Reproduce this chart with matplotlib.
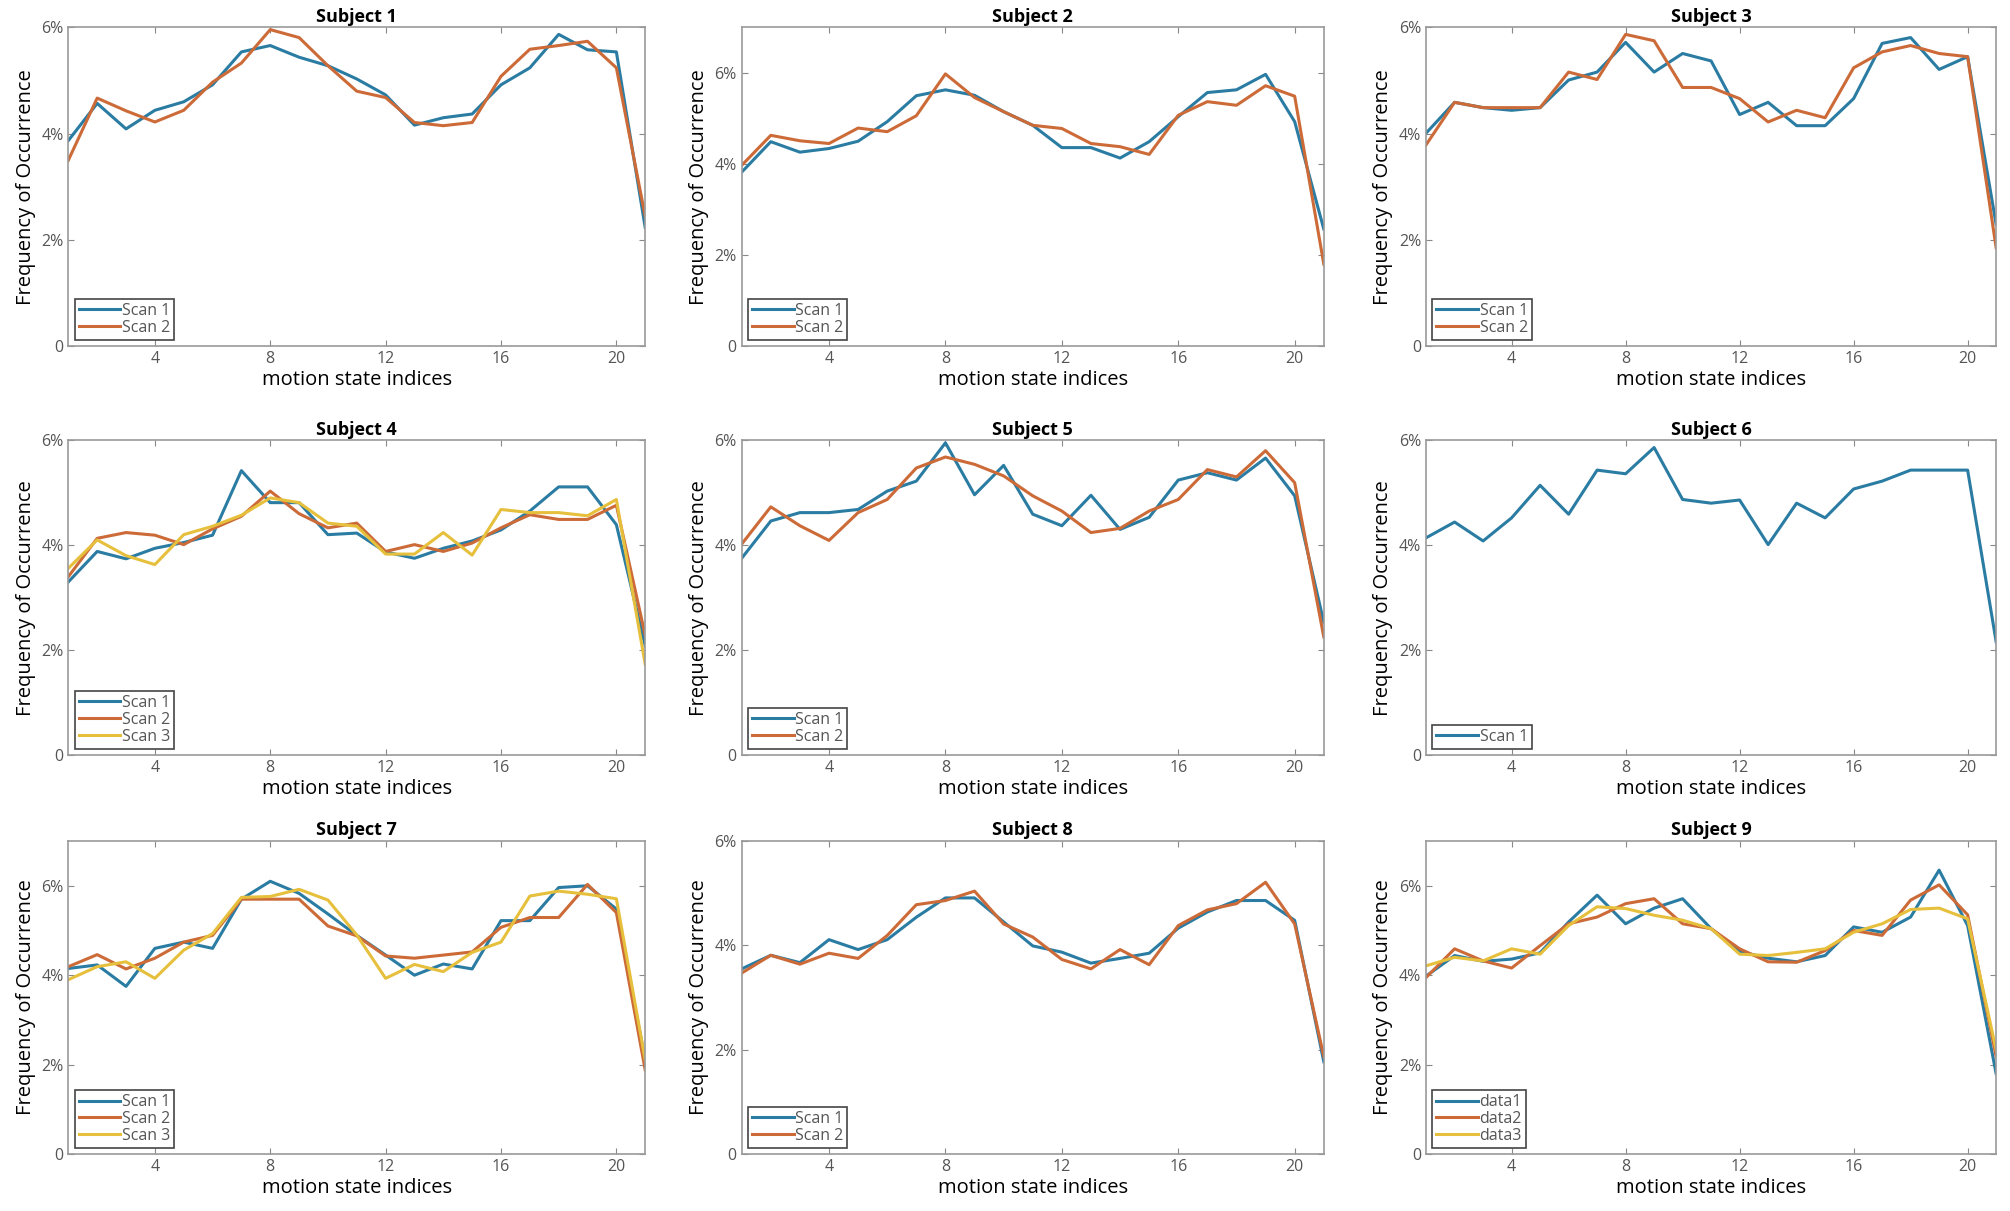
import numpy as np
import matplotlib
matplotlib.use("Agg")
import matplotlib.pyplot as plt
from matplotlib.ticker import FuncFormatter

plt.rcParams['font.family'] = ['Open Sans', 'DejaVu Sans']

states = np.arange(1, 22)

s1_scan1 = [3.87, 4.57, 4.09, 4.44, 4.6, 4.92, 5.54, 5.66, 5.44, 5.28, 5.03, 4.73, 4.16, 4.3, 4.37, 4.92, 5.24, 5.87, 5.58, 5.54, 2.23]
s1_scan2 = [3.5, 4.67, 4.43, 4.22, 4.44, 4.97, 5.33, 5.96, 5.81, 5.28, 4.8, 4.68, 4.21, 4.15, 4.21, 5.08, 5.59, 5.66, 5.74, 5.24, 2.44]

s2_scan1 = [3.82, 4.49, 4.26, 4.34, 4.5, 4.93, 5.5, 5.63, 5.51, 5.15, 4.85, 4.36, 4.36, 4.13, 4.49, 5.04, 5.57, 5.63, 5.97, 4.93, 2.57]
s2_scan2 = [3.97, 4.63, 4.51, 4.45, 4.79, 4.71, 5.06, 5.98, 5.46, 5.15, 4.85, 4.78, 4.45, 4.38, 4.21, 5.07, 5.37, 5.29, 5.72, 5.49, 1.8]

s3_scan1 = [4.01, 4.59, 4.49, 4.44, 4.49, 5.01, 5.16, 5.72, 5.16, 5.51, 5.37, 4.36, 4.59, 4.15, 4.15, 4.66, 5.7, 5.81, 5.21, 5.45, 2.29]
s3_scan2 = [3.79, 4.59, 4.49, 4.49, 4.49, 5.16, 5.02, 5.87, 5.75, 4.87, 4.87, 4.66, 4.22, 4.44, 4.3, 5.24, 5.54, 5.66, 5.51, 5.45, 1.85]

s4_scan1 = [3.3, 3.88, 3.74, 3.94, 4.05, 4.19, 5.42, 4.81, 4.81, 4.2, 4.23, 3.87, 3.75, 3.94, 4.08, 4.29, 4.65, 5.11, 5.11, 4.39, 2.08]
s4_scan2 = [3.4, 4.13, 4.24, 4.19, 4.01, 4.31, 4.55, 5.03, 4.6, 4.33, 4.42, 3.88, 4.01, 3.88, 4.04, 4.33, 4.58, 4.49, 4.49, 4.76, 2.28]
s4_scan3 = [3.56, 4.1, 3.8, 3.63, 4.2, 4.36, 4.57, 4.9, 4.81, 4.42, 4.36, 3.83, 3.83, 4.24, 3.81, 4.68, 4.62, 4.62, 4.56, 4.87, 1.73]

s5_scan1 = [3.75, 4.46, 4.62, 4.62, 4.68, 5.03, 5.22, 5.95, 4.96, 5.52, 4.59, 4.37, 4.95, 4.3, 4.53, 5.24, 5.38, 5.24, 5.66, 4.94, 2.53]
s5_scan2 = [4.02, 4.73, 4.37, 4.09, 4.62, 4.87, 5.47, 5.68, 5.54, 5.32, 4.94, 4.65, 4.24, 4.32, 4.65, 4.87, 5.44, 5.3, 5.8, 5.19, 2.25]

s6_scan1 = [4.14, 4.44, 4.08, 4.52, 5.14, 4.59, 5.43, 5.36, 5.86, 4.87, 4.8, 4.86, 4.01, 4.8, 4.52, 5.07, 5.22, 5.43, 5.43, 5.43, 2.16]

s7_scan1 = [4.15, 4.23, 3.75, 4.6, 4.74, 4.6, 5.7, 6.1, 5.83, 5.37, 4.89, 4.45, 4.0, 4.25, 4.14, 5.22, 5.22, 5.96, 6.0, 5.48, 2.1]
s7_scan2 = [4.19, 4.46, 4.14, 4.38, 4.74, 4.89, 5.7, 5.7, 5.7, 5.1, 4.88, 4.43, 4.38, 4.45, 4.52, 5.07, 5.29, 5.29, 6.03, 5.4, 1.88]
s7_scan3 = [3.9, 4.19, 4.3, 3.93, 4.56, 4.93, 5.74, 5.76, 5.92, 5.68, 4.9, 3.93, 4.24, 4.08, 4.51, 4.74, 5.77, 5.88, 5.81, 5.71, 2.1]

s8_scan1 = [3.55, 3.81, 3.67, 4.11, 3.92, 4.11, 4.54, 4.91, 4.91, 4.45, 3.99, 3.87, 3.66, 3.75, 3.85, 4.33, 4.64, 4.86, 4.86, 4.48, 1.77]
s8_scan2 = [3.47, 3.81, 3.64, 3.85, 3.75, 4.19, 4.78, 4.86, 5.04, 4.41, 4.16, 3.73, 3.55, 3.92, 3.63, 4.38, 4.68, 4.8, 5.21, 4.41, 1.87]

s9_data1 = [3.98, 4.44, 4.31, 4.36, 4.5, 5.19, 5.79, 5.15, 5.5, 5.71, 5.04, 4.53, 4.38, 4.3, 4.44, 5.08, 4.96, 5.3, 6.35, 5.11, 1.8]
s9_data2 = [3.95, 4.59, 4.32, 4.16, 4.66, 5.15, 5.3, 5.6, 5.71, 5.15, 5.04, 4.59, 4.3, 4.29, 4.55, 5.0, 4.89, 5.68, 6.02, 5.35, 2.18]
s9_data3 = [4.21, 4.4, 4.32, 4.59, 4.47, 5.11, 5.53, 5.49, 5.34, 5.23, 5.04, 4.47, 4.44, 4.51, 4.59, 4.96, 5.15, 5.47, 5.5, 5.26, 2.33]

titles = ['Subject %d' % i for i in range(1, 10)]
series = [
    [s1_scan1, s1_scan2],
    [s2_scan1, s2_scan2],
    [s3_scan1, s3_scan2],
    [s4_scan1, s4_scan2, s4_scan3],
    [s5_scan1, s5_scan2],
    [s6_scan1],
    [s7_scan1, s7_scan2, s7_scan3],
    [s8_scan1, s8_scan2],
    [s9_data1, s9_data2, s9_data3],
]
labels = [['Scan 1', 'Scan 2', 'Scan 3']] * 8 + [['data1', 'data2', 'data3']]
ytops = [6, 7, 6, 6, 6, 6, 7, 6, 7]

colors = ['#2a7ca3', '#cc6a38', '#e6c03c']

fig = plt.figure(figsize=(20.1, 12.11), dpi=100)

col_left = [0.034, 0.369, 0.7095]
col_width = [0.287, 0.2896, 0.2836]
row_bottom = [0.7143, 0.3765, 0.047]
row_height = [0.263, 0.260, 0.2585]

pct = FuncFormatter(lambda v, p: '0' if v == 0 else '%d%%' % v)

for k in range(9):
    r, c = divmod(k, 3)
    ax = fig.add_axes([col_left[c], row_bottom[r], col_width[c], row_height[r]])
    for j, vals in enumerate(series[k]):
        ax.plot(states, vals, color=colors[j], lw=2.2, label=labels[k][j])
    ax.set_xlim(1, 21)
    ax.set_ylim(0, ytops[k])
    ax.set_xticks([4, 8, 12, 16, 20])
    ax.set_yticks([0, 2, 4, 6])
    ax.yaxis.set_major_formatter(pct)
    ax.tick_params(direction='in', top=True, right=True, length=4, width=0.8,
                   colors='#888888', labelcolor='#555555', labelsize=11.5)
    for sp in ax.spines.values():
        sp.set_color('#999999')
        sp.set_linewidth(1.2)
    ax.set_title(titles[k], fontsize=13, fontweight='bold', pad=4)
    ax.set_xlabel('motion state indices', fontsize=14.5, labelpad=2)
    ax.set_ylabel('Frequency of Occurrence', fontsize=14.5, labelpad=4)
    leg = ax.legend(loc='lower left', fontsize=11.5, handlelength=2.6, handletextpad=0.1,
                    labelspacing=0.05, borderpad=0.25, borderaxespad=0.4,
                    fancybox=False, framealpha=1)
    leg.get_frame().set_edgecolor('#444444')
    leg.get_frame().set_linewidth(1.2)
    for t in leg.get_texts():
        t.set_color('#555555')

fig.savefig('out.png', dpi=100)
